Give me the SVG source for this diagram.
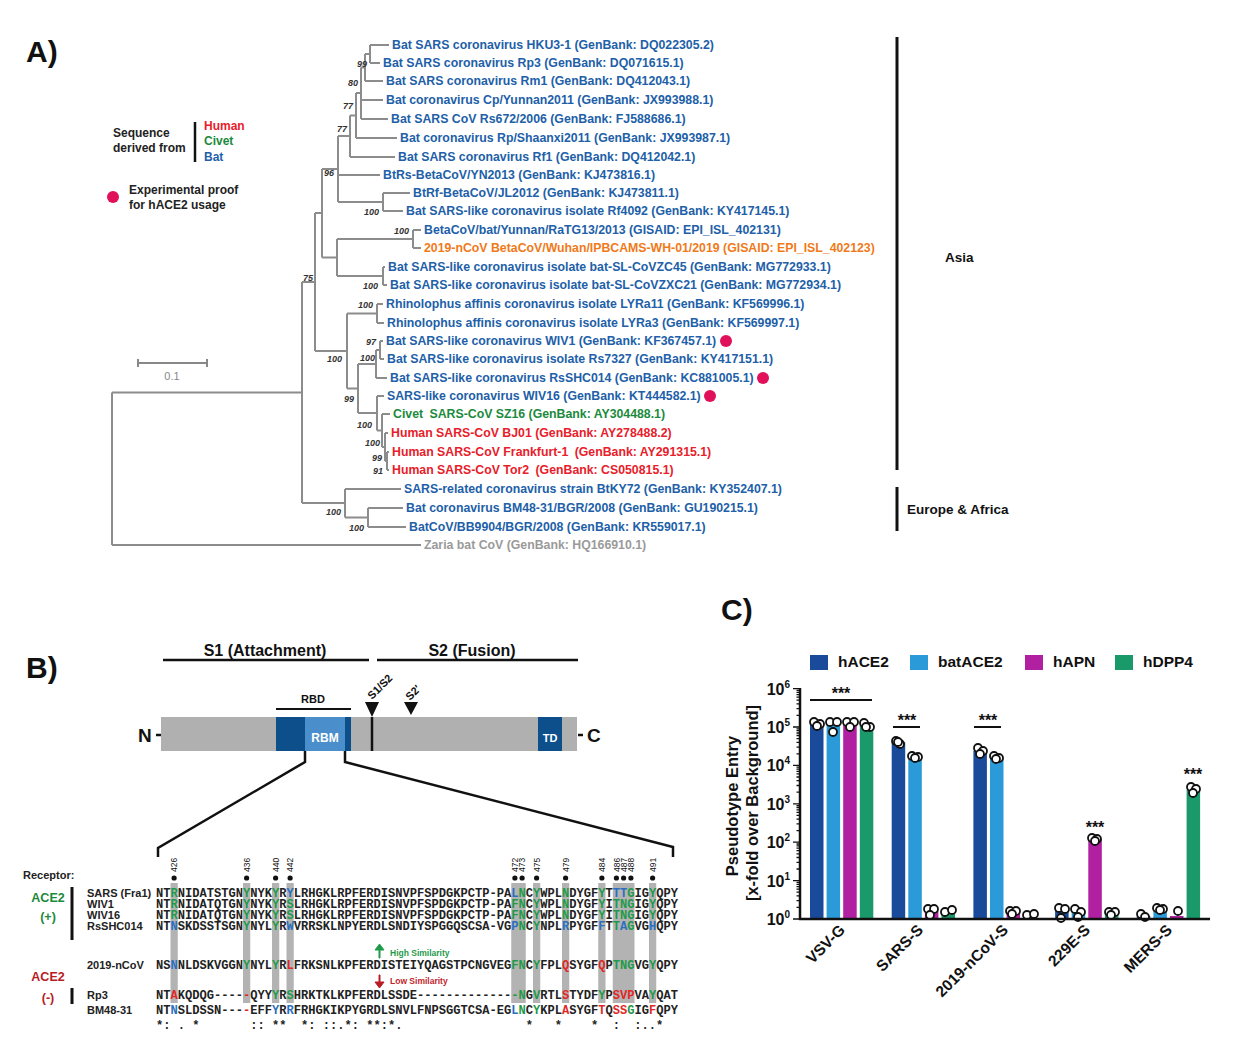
<svg xmlns="http://www.w3.org/2000/svg" width="1240" height="1051" viewBox="0 0 1240 1051">
<style>
text{font-family:"Liberation Sans",Arial,sans-serif}
.pl{font-size:30px;font-weight:bold;fill:#111}
.leaf{font-size:12.3px;font-weight:bold;fill:#2160a8}
.red{fill:#e8202a}.grn{fill:#1a8a3c}.org{fill:#f07a1a}.gry{fill:#9a9a9a}
.bs{font-size:9px;font-weight:bold;font-style:italic;fill:#333;text-anchor:end}
.br{stroke:#8c8c8c;stroke-width:2;fill:none}
.lg{font-size:12px;font-weight:bold;fill:#222}
.dom{font-size:16px;font-weight:bold;fill:#111}
.sm{font-size:11px;font-weight:bold;fill:#111}
.seq text{font-family:"Liberation Mono","Courier New",monospace;font-size:12.08px;font-weight:bold;fill:#222}
.g{fill:#1f9a4a}.b{fill:#2a6fc0}.r{fill:#e02828}
.col{fill:#b3b3b3}
.num{font-size:8.5px;fill:#111}
.ax{stroke:#111;stroke-width:2.5;fill:none}
.tk{stroke:#111;stroke-width:1.3;fill:none}
.tl{font-size:16px;font-weight:bold;fill:#111;text-anchor:end}
.xl{font-size:15.5px;font-weight:bold;fill:#111;text-anchor:end}
.c1{fill:#1a4b9b}.c2{fill:#2a9ad8}.c3{fill:#b020a0}.c4{fill:#1a9a6a}
.pt{fill:#fff;stroke:#111;stroke-width:1.8}
.st{font-size:16px;font-weight:bold;fill:#111;text-anchor:middle}
</style>
<rect width="1240" height="1051" fill="#fff"/>

<!-- Panel labels -->
<text class="pl" x="26" y="62">A)</text>
<text class="pl" x="26" y="678">B)</text>
<text class="pl" x="721" y="620">C)</text>

<!-- ===== Panel A: tree branches ===== -->
<g id="tree-branches" class="br">
<path d="M112,392.5V545M112,392.5H302M112,545H421"/>
<path d="M302,282V503M302,282H315M302,503H345"/>
<path d="M315,213V351M315,213H322M315,351H347"/>
<path d="M322,169V257.5M322,169H338M322,257.5H337"/>
<path d="M338,136V202M338,136H350M338,175H380M338,202H383"/>
<path d="M350,115.5V157M350,115.5H356M350,157H395"/>
<path d="M356,93V138M356,93H361M356,138H397"/>
<path d="M361,67.5V119M361,67.5H365M361,100H383M361,119H388"/>
<path d="M365,54V81M365,54H370M365,81H383"/>
<path d="M370,45V63M370,45H389M370,63H380"/>
<path d="M383,193V211M383,193H410M383,211H403"/>
<path d="M337,239V276M337,239H413M337,276H383"/>
<path d="M413,230V248M413,230H421M413,248H421"/>
<path d="M383,267V285M383,267H385M383,285H387"/>
<path d="M347,313.5V388.5M347,313.5H377M347,388.5H358"/>
<path d="M377,304V323M377,304H383M377,323H384"/>
<path d="M358,364V413M358,364H376M358,413H377"/>
<path d="M376,350V378M376,350H380M376,378H387"/>
<path d="M380,341V359M380,341H383M380,359H384"/>
<path d="M377,396V430.5M377,396H384M377,430.5H382"/>
<path d="M382,414V447M382,414H390M382,447H385"/>
<path d="M385,433V461M385,433H388M385,461H387"/>
<path d="M387,452V470M387,452H389M387,470H389"/>
<path d="M345,489V517.5M345,489H401M345,517.5H368"/>
<path d="M368,508V527M368,508H403M368,527H406"/>
</g>

<!-- bootstrap values -->
<g id="bootstrap">
<text class="bs" x="367" y="67">99</text>
<text class="bs" x="358" y="86">80</text>
<text class="bs" x="353" y="109">77</text>
<text class="bs" x="347" y="132">77</text>
<text class="bs" x="334" y="176">96</text>
<text class="bs" x="379" y="215">100</text>
<text class="bs" x="409" y="234">100</text>
<text class="bs" x="378" y="289">100</text>
<text class="bs" x="313" y="281">75</text>
<text class="bs" x="373" y="308">100</text>
<text class="bs" x="376" y="345">97</text>
<text class="bs" x="375" y="361">100</text>
<text class="bs" x="342" y="362">100</text>
<text class="bs" x="354" y="402">99</text>
<text class="bs" x="372" y="428">100</text>
<text class="bs" x="380" y="446">100</text>
<text class="bs" x="382" y="461">99</text>
<text class="bs" x="383" y="474">91</text>
<text class="bs" x="341" y="515">100</text>
<text class="bs" x="364" y="531">100</text>
</g>

<!-- leaves -->
<g id="leaf-HKU3-1"><text class="leaf" x="392" y="49">Bat SARS coronavirus HKU3-1 (GenBank: DQ022305.2)</text></g>
<g id="leaf-Rp3"><text class="leaf" x="383" y="67">Bat SARS coronavirus Rp3 (GenBank: DQ071615.1)</text></g>
<g id="leaf-Rm1"><text class="leaf" x="386" y="85">Bat SARS coronavirus Rm1 (GenBank: DQ412043.1)</text></g>
<g id="leaf-Cp"><text class="leaf" x="386" y="104">Bat coronavirus Cp/Yunnan2011 (GenBank: JX993988.1)</text></g>
<g id="leaf-Rs672"><text class="leaf" x="391" y="123">Bat SARS CoV Rs672/2006 (GenBank: FJ588686.1)</text></g>
<g id="leaf-RpShaanxi"><text class="leaf" x="400" y="142">Bat coronavirus Rp/Shaanxi2011 (GenBank: JX993987.1)</text></g>
<g id="leaf-Rf1"><text class="leaf" x="398" y="161">Bat SARS coronavirus Rf1 (GenBank: DQ412042.1)</text></g>
<g id="leaf-BtRs"><text class="leaf" x="383" y="179">BtRs-BetaCoV/YN2013 (GenBank: KJ473816.1)</text></g>
<g id="leaf-BtRf"><text class="leaf" x="413" y="197">BtRf-BetaCoV/JL2012 (GenBank: KJ473811.1)</text></g>
<g id="leaf-Rf4092"><text class="leaf" x="406" y="215">Bat SARS-like coronavirus isolate Rf4092 (GenBank: KY417145.1)</text></g>
<g id="leaf-RaTG13"><text class="leaf" x="424" y="234">BetaCoV/bat/Yunnan/RaTG13/2013 (GISAID: EPI_ISL_402131)</text></g>
<g id="leaf-nCoV"><text class="leaf org" x="424" y="252">2019-nCoV BetaCoV/Wuhan/IPBCAMS-WH-01/2019 (GISAID: EPI_ISL_402123)</text></g>
<g id="leaf-ZC45"><text class="leaf" x="388" y="271">Bat SARS-like coronavirus isolate bat-SL-CoVZC45 (GenBank: MG772933.1)</text></g>
<g id="leaf-ZXC21"><text class="leaf" x="390" y="289">Bat SARS-like coronavirus isolate bat-SL-CoVZXC21 (GenBank: MG772934.1)</text></g>
<g id="leaf-LYRa11"><text class="leaf" x="386" y="308">Rhinolophus affinis coronavirus isolate LYRa11 (GenBank: KF569996.1)</text></g>
<g id="leaf-LYRa3"><text class="leaf" x="387" y="327">Rhinolophus affinis coronavirus isolate LYRa3 (GenBank: KF569997.1)</text></g>
<g id="leaf-WIV1"><text class="leaf" x="386" y="345">Bat SARS-like coronavirus WIV1 (GenBank: KF367457.1)</text><circle cx="726" cy="341" r="6" fill="#e0105a"/></g>
<g id="leaf-Rs7327"><text class="leaf" x="387" y="363">Bat SARS-like coronavirus isolate Rs7327 (GenBank: KY417151.1)</text></g>
<g id="leaf-RsSHC014"><text class="leaf" x="390" y="382">Bat SARS-like coronavirus RsSHC014 (GenBank: KC881005.1)</text><circle cx="763" cy="378" r="6" fill="#e0105a"/></g>
<g id="leaf-WIV16"><text class="leaf" x="387" y="400">SARS-like coronavirus WIV16 (GenBank: KT444582.1)</text><circle cx="710" cy="396" r="6" fill="#e0105a"/></g>
<g id="leaf-SZ16"><text class="leaf grn" x="393" y="418">Civet <tspan dx="3">SARS-CoV SZ16 (GenBank: AY304488.1)</tspan></text></g>
<g id="leaf-BJ01"><text class="leaf red" x="391" y="437">Human SARS-CoV BJ01 (GenBank: AY278488.2)</text></g>
<g id="leaf-Frankfurt"><text class="leaf red" x="392" y="456">Human SARS-CoV Frankfurt-1 <tspan dx="3">(GenBank: AY291315.1)</tspan></text></g>
<g id="leaf-Tor2"><text class="leaf red" x="392" y="474">Human SARS-CoV Tor2 <tspan dx="3">(GenBank: CS050815.1)</tspan></text></g>
<g id="leaf-BtKY72"><text class="leaf" x="404" y="493">SARS-related coronavirus strain BtKY72 (GenBank: KY352407.1)</text></g>
<g id="leaf-BM48"><text class="leaf" x="406" y="512">Bat coronavirus BM48-31/BGR/2008 (GenBank: GU190215.1)</text></g>
<g id="leaf-BB9904"><text class="leaf" x="409" y="531">BatCoV/BB9904/BGR/2008 (GenBank: KR559017.1)</text></g>
<g id="leaf-Zaria"><text class="leaf gry" x="424" y="549">Zaria bat CoV (GenBank: HQ166910.1)</text></g>

<!-- legend -->
<g id="legend-A">
<text class="lg" x="113" y="137">Sequence</text>
<text class="lg" x="113" y="152">derived from</text>
<path d="M195,122V162" stroke="#111" stroke-width="2.5"/>
<text class="lg" x="204" y="130" style="fill:#e8202a">Human</text>
<text class="lg" x="204" y="145" style="fill:#1a8a3c">Civet</text>
<text class="lg" x="204" y="161" style="fill:#2160a8">Bat</text>
<circle cx="113" cy="197" r="6" fill="#e0105a"/>
<text class="lg" x="129" y="194">Experimental proof</text>
<text class="lg" x="129" y="209">for hACE2 usage</text>
</g>
<g id="scalebar">
<path d="M138,363H207M138,359V367M207,359V367" stroke="#888" stroke-width="2" fill="none"/>
<text x="172" y="380" font-size="11" fill="#888" text-anchor="middle">0.1</text>
</g>
<g id="region-asia">
<path d="M897,37V470" stroke="#111" stroke-width="3"/>
<text x="945" y="262" font-size="13.5" font-weight="bold" fill="#111">Asia</text>
</g>
<g id="region-europe">
<path d="M897,487V531" stroke="#111" stroke-width="3"/>
<text x="907" y="514" font-size="13.5" font-weight="bold" fill="#111">Europe &amp; Africa</text>
</g>

<!-- ===== Panel B: domain ===== -->
<g id="spike-domains">
<path d="M163,660H369M377,660H578" stroke="#111" stroke-width="2.5"/>
<text class="dom" x="265" y="656" text-anchor="middle">S1 (Attachment)</text>
<text class="dom" x="472" y="656" text-anchor="middle">S2 (Fusion)</text>
<rect x="161" y="717" width="416" height="34" fill="#b0b0b0"/>
<rect x="276" y="717" width="75" height="34" fill="#0d4f8b"/>
<rect x="305" y="717" width="40" height="34" fill="#4a8fcc"/>
<rect x="538" y="717" width="24" height="34" fill="#0d4f8b"/>
<text x="325" y="742" font-size="12" font-weight="bold" fill="#fff" text-anchor="middle">RBM</text>
<text x="550" y="742" font-size="11" font-weight="bold" fill="#fff" text-anchor="middle">TD</text>
<path d="M276,709H351" stroke="#111" stroke-width="2"/>
<text class="sm" x="313" y="703" text-anchor="middle">RBD</text>
<path d="M372,717V751" stroke="#111" stroke-width="2.5"/>
<path d="M365,702H379L372,717Z" fill="#111"/>
<path d="M404,702H418L411,715Z" fill="#111"/>
<text class="sm" transform="translate(372,700) rotate(-45)">S1/S2</text>
<text class="sm" transform="translate(410,701) rotate(-45)">S2′</text>
<text x="138" y="742" font-size="19" font-weight="bold" fill="#111">N</text>
<path d="M156,735H161M578,735H583" stroke="#111" stroke-width="2.5"/>
<text x="587" y="742" font-size="19" font-weight="bold" fill="#111">C</text>
</g>
<g id="zoom-lines" fill="none" stroke="#111" stroke-width="2.5">
<path d="M305,751V762L158,848V857"/>
<path d="M345,751V762L673,847V857"/>
</g>

<!-- alignment -->
<g id="alignment-columns" class="col">
<rect x="170.5" y="883" width="7.25" height="120"/>
<rect x="243" y="883" width="7.25" height="120"/>
<rect x="272" y="883" width="7.25" height="120"/>
<rect x="286.5" y="883" width="7.25" height="120"/>
<rect x="511.25" y="883" width="14.5" height="120"/>
<rect x="533" y="883" width="7.25" height="120"/>
<rect x="562" y="883" width="7.25" height="120"/>
<rect x="598.25" y="883" width="7.25" height="120"/>
<rect x="612.75" y="883" width="21.75" height="120"/>
<rect x="649" y="883" width="7.25" height="120"/>
</g>
<g id="alignment-positions">
<g fill="#111">
<circle cx="174.1" cy="878" r="2.6"/><circle cx="246.6" cy="878" r="2.6"/><circle cx="275.6" cy="878" r="2.6"/><circle cx="290.1" cy="878" r="2.6"/>
<circle cx="514.9" cy="878" r="2.6"/><circle cx="522.1" cy="878" r="2.6"/><circle cx="536.6" cy="878" r="2.6"/><circle cx="565.6" cy="878" r="2.6"/>
<circle cx="601.9" cy="878" r="2.6"/><circle cx="616.4" cy="878" r="2.6"/><circle cx="623.6" cy="878" r="2.6"/><circle cx="630.9" cy="878" r="2.6"/><circle cx="652.6" cy="878" r="2.6"/>
</g>
<text class="num" transform="translate(177.3,872) rotate(-90)">426</text>
<text class="num" transform="translate(249.8,872) rotate(-90)">436</text>
<text class="num" transform="translate(278.8,872) rotate(-90)">440</text>
<text class="num" transform="translate(293.3,872) rotate(-90)">442</text>
<text class="num" transform="translate(518.1,872) rotate(-90)">472</text>
<text class="num" transform="translate(525.3,872) rotate(-90)">473</text>
<text class="num" transform="translate(539.8,872) rotate(-90)">475</text>
<text class="num" transform="translate(568.8,872) rotate(-90)">479</text>
<text class="num" transform="translate(605.1,872) rotate(-90)">484</text>
<text class="num" transform="translate(619.6,872) rotate(-90)">486</text>
<text class="num" transform="translate(626.8,872) rotate(-90)">487</text>
<text class="num" transform="translate(634.1,872) rotate(-90)">488</text>
<text class="num" transform="translate(655.8,872) rotate(-90)">491</text>
</g>
<g id="alignment-labels">
<text x="23" y="879" font-size="11" font-weight="bold" fill="#222">Receptor:</text>
<text x="48" y="902" font-size="12.5" font-weight="bold" fill="#1a8a3c" text-anchor="middle">ACE2</text>
<text x="48" y="921" font-size="12.5" font-weight="bold" fill="#1a8a3c" text-anchor="middle">(+)</text>
<path d="M72,887V940M72,988V1004" stroke="#111" stroke-width="3"/>
<text x="48" y="981" font-size="12.5" font-weight="bold" fill="#b81c24" text-anchor="middle">ACE2</text>
<text x="48" y="1002" font-size="12.5" font-weight="bold" fill="#b81c24" text-anchor="middle">(-)</text>
<g class="sm" style="fill:#222">
<text x="87" y="897">SARS (Fra1)</text>
<text x="87" y="908">WIV1</text>
<text x="87" y="919">WIV16</text>
<text x="87" y="930">RsSHC014</text>
<text x="87" y="969">2019-nCoV</text>
<text x="87" y="999">Rp3</text>
<text x="87" y="1014">BM48-31</text>
</g>
</g>
<g id="alignment-rows" class="seq">
<text x="156" y="897">NT<tspan class="g">R</tspan>NIDATSTGN<tspan class="g">Y</tspan>NYK<tspan class="g">Y</tspan>R<tspan class="b">Y</tspan>LRHGKLRPFERDISNVPFSPDGKPCTP-PA<tspan class="b">L</tspan><tspan class="g">N</tspan>C<tspan class="g">Y</tspan>WPL<tspan class="g">N</tspan>DYGF<tspan class="g">Y</tspan>T<tspan class="b">TT</tspan><tspan class="g">G</tspan>IG<tspan class="g">Y</tspan>QPY</text>
<text x="156" y="908">NT<tspan class="g">R</tspan>NIDATQTGN<tspan class="g">Y</tspan>NYK<tspan class="g">Y</tspan>R<tspan class="g">S</tspan>LRHGKLRPFERDISNVPFSPDGKPCTP-PA<tspan class="g">FN</tspan>C<tspan class="g">Y</tspan>WPL<tspan class="g">N</tspan>DYGF<tspan class="g">Y</tspan>I<tspan class="g">TNG</tspan>IG<tspan class="g">Y</tspan>QPY</text>
<text x="156" y="919">NT<tspan class="g">R</tspan>NIDATQTGN<tspan class="g">Y</tspan>NYK<tspan class="g">Y</tspan>R<tspan class="g">S</tspan>LRHGKLRPFERDISNVPFSPDGKPCTP-PA<tspan class="g">FN</tspan>C<tspan class="g">Y</tspan>WPL<tspan class="g">N</tspan>DYGF<tspan class="g">Y</tspan>I<tspan class="g">TNG</tspan>IG<tspan class="g">Y</tspan>QPY</text>
<text x="156" y="930">NT<tspan class="b">N</tspan>SKDSSTSGN<tspan class="g">Y</tspan>NYL<tspan class="g">Y</tspan>R<tspan class="b">W</tspan>VRRSKLNPYERDLSNDIYSPGGQSCSA-VG<tspan class="b">P</tspan><tspan class="g">N</tspan>C<tspan class="g">Y</tspan>NPL<tspan class="b">R</tspan>PYGF<tspan class="b">F</tspan>T<tspan class="g">T</tspan><tspan class="b">A</tspan><tspan class="g">G</tspan>VG<tspan class="b">H</tspan>QPY</text>
<text x="156" y="969">NS<tspan class="b">N</tspan>NLDSKVGGN<tspan class="g">Y</tspan>NYL<tspan class="g">Y</tspan>R<tspan class="r">L</tspan>FRKSNLKPFERDISTEIYQAGSTPCNGVEG<tspan class="g">FN</tspan>C<tspan class="g">Y</tspan>FPL<tspan class="r">Q</tspan>SYGF<tspan class="r">Q</tspan>P<tspan class="g">TNG</tspan>VG<tspan class="g">Y</tspan>QPY</text>
<text x="156" y="999">NT<tspan class="r">A</tspan>KQDQG----<tspan class="r">-</tspan>QYY<tspan class="g">Y</tspan>R<tspan class="g">S</tspan>HRKTKLKPFERDLSSDE-------------<tspan class="g">-N</tspan>G<tspan class="g">V</tspan>RTL<tspan class="r">S</tspan>TYDF<tspan class="g">Y</tspan>P<tspan class="r">SVP</tspan>VA<tspan class="g">Y</tspan>QAT</text>
<text x="156" y="1014">NT<tspan class="b">N</tspan>SLDSSN---<tspan class="r">-</tspan>EFF<tspan class="b">Y</tspan>R<tspan class="b">R</tspan>FRHGKIKPYGRDLSNVLFNPSGGTCSA-EG<tspan class="b">L</tspan><tspan class="g">N</tspan>C<tspan class="g">Y</tspan>KPL<tspan class="r">A</tspan>SYGF<tspan class="r">T</tspan>Q<tspan class="r">SS</tspan><tspan class="g">G</tspan>IG<tspan class="r">F</tspan>QPY</text>
<text x="156" y="1029" xml:space="preserve" style="white-space:pre">*: . *       :: **  *: ::.*: **:*.                 *   *    *  :  :..*</text>
</g>
<g id="similarity-notes">
<path d="M379,958V950H375L379.5,944L384,950H380V958Z" fill="#1f9a4a" stroke="#1f9a4a" stroke-width="1"/>
<text x="390" y="956" font-size="8.5" font-weight="bold" fill="#1f9a4a">High Similarity</text>
<path d="M379,975V982H375L379.5,988L384,982H380V975Z" fill="#b81c24" stroke="#b81c24" stroke-width="1"/>
<text x="390" y="984" font-size="8.5" font-weight="bold" fill="#c0262c">Low Similarity</text>
</g>

<!-- ===== Panel C ===== -->
<g id="legend-C" font-size="15.5" font-weight="bold" fill="#111">
<rect class="c1" x="810" y="655" width="18" height="15"/><text x="838" y="667">hACE2</text>
<rect class="c2" x="910" y="655" width="18" height="15"/><text x="938" y="667">batACE2</text>
<rect class="c3" x="1025" y="655" width="18" height="15"/><text x="1053" y="667">hAPN</text>
<rect class="c4" x="1115" y="655" width="18" height="15"/><text x="1143" y="667">hDPP4</text>
</g>
<g id="bars">
<rect class="c1" x="810" y="724" width="13.5" height="195"/>
<rect class="c2" x="826.6" y="724.7" width="13.5" height="194.3"/>
<rect class="c3" x="843.2" y="724" width="13.5" height="195"/>
<rect class="c4" x="859.8" y="725.4" width="13.5" height="193.6"/>
<rect class="c1" x="891.7" y="742.3" width="13.5" height="176.7"/>
<rect class="c2" x="908.3" y="756.6" width="13.5" height="162.4"/>
<rect class="c3" x="924.9" y="911.2" width="13.5" height="7.8"/>
<rect class="c4" x="941.5" y="912.2" width="13.5" height="6.8"/>
<rect class="c1" x="973.4" y="750.8" width="13.5" height="168.2"/>
<rect class="c2" x="990" y="757.6" width="13.5" height="161.4"/>
<rect class="c3" x="1006.6" y="912.2" width="13.5" height="6.8"/>
<rect class="c4" x="1023.2" y="914.6" width="13.5" height="4.4"/>
<rect class="c1" x="1055.1" y="910.2" width="13.5" height="8.8"/>
<rect class="c2" x="1071.7" y="912.2" width="13.5" height="6.8"/>
<rect class="c3" x="1088.3" y="839.2" width="13.5" height="79.8"/>
<rect class="c4" x="1104.9" y="913.4" width="13.5" height="5.6"/>
<rect class="c1" x="1136.8" y="916" width="13.5" height="3"/>
<rect class="c2" x="1153.4" y="909.2" width="13.5" height="9.8"/>
<rect class="c3" x="1170" y="916" width="13.5" height="3"/>
<rect class="c4" x="1186.6" y="789.9" width="13.5" height="129.1"/>
</g>
<g id="points">
<circle class="pt" cx="814" cy="722" r="4"/><circle class="pt" cx="820" cy="724" r="4"/><circle class="pt" cx="817" cy="726" r="4"/>
<circle class="pt" cx="830" cy="722" r="4"/><circle class="pt" cx="837" cy="722" r="4"/><circle class="pt" cx="833" cy="732" r="4"/>
<circle class="pt" cx="847" cy="722" r="4"/><circle class="pt" cx="854" cy="722" r="4"/><circle class="pt" cx="850" cy="727" r="4"/>
<circle class="pt" cx="864" cy="723" r="4"/><circle class="pt" cx="870" cy="727" r="4"/><circle class="pt" cx="866" cy="727" r="4"/>
<circle class="pt" cx="896" cy="741" r="4"/><circle class="pt" cx="900" cy="744" r="4"/><circle class="pt" cx="898" cy="742" r="4"/>
<circle class="pt" cx="912" cy="756" r="4"/><circle class="pt" cx="918" cy="757" r="4"/><circle class="pt" cx="915" cy="758" r="4"/>
<circle class="pt" cx="928" cy="909" r="4"/><circle class="pt" cx="934" cy="909" r="4"/><circle class="pt" cx="930" cy="915" r="4"/>
<circle class="pt" cx="945" cy="912" r="4"/><circle class="pt" cx="952" cy="910" r="4"/>
<circle class="pt" cx="978" cy="748" r="4"/><circle class="pt" cx="983" cy="751" r="4"/><circle class="pt" cx="980" cy="754" r="4"/>
<circle class="pt" cx="994" cy="756" r="4"/><circle class="pt" cx="999" cy="758" r="4"/><circle class="pt" cx="996" cy="759" r="4"/>
<circle class="pt" cx="1010" cy="911" r="4"/><circle class="pt" cx="1016" cy="911" r="4"/><circle class="pt" cx="1012" cy="914" r="4"/>
<circle class="pt" cx="1027" cy="915" r="4"/><circle class="pt" cx="1034" cy="914" r="4"/>
<circle class="pt" cx="1059" cy="908" r="4"/><circle class="pt" cx="1065" cy="909" r="4"/><circle class="pt" cx="1061" cy="918" r="4"/>
<circle class="pt" cx="1075" cy="909" r="4"/><circle class="pt" cx="1081" cy="912" r="4"/><circle class="pt" cx="1078" cy="917" r="4"/>
<circle class="pt" cx="1092" cy="838" r="4"/><circle class="pt" cx="1097" cy="839" r="4"/><circle class="pt" cx="1095" cy="841" r="4"/>
<circle class="pt" cx="1109" cy="912" r="4"/><circle class="pt" cx="1115" cy="912" r="4"/><circle class="pt" cx="1111" cy="915" r="4"/>
<circle class="pt" cx="1141" cy="914" r="4"/><circle class="pt" cx="1145" cy="917" r="4"/>
<circle class="pt" cx="1157" cy="908" r="4"/><circle class="pt" cx="1163" cy="909" r="4"/><circle class="pt" cx="1160" cy="910" r="4"/>
<circle class="pt" cx="1178" cy="911" r="4"/>
<circle class="pt" cx="1191" cy="787" r="4"/><circle class="pt" cx="1196" cy="789" r="4"/><circle class="pt" cx="1193" cy="793" r="4"/>
</g>
<g id="axes">
<path class="ax" d="M800,688V920M799,919H1210"/>
<path class="tk" stroke-width="2" d="M793,919H800M793,880.6H800M793,842.2H800M793,803.8H800M793,765.4H800M793,727H800M793,688.6H800"/>
<path class="tk" d="M796.5,907.4H800M796.5,900.7H800M796.5,895.9H800M796.5,892.2H800M796.5,889.1H800M796.5,886.6H800M796.5,884.3H800M796.5,882.4H800M796.5,869H800M796.5,862.3H800M796.5,857.5H800M796.5,853.8H800M796.5,850.7H800M796.5,848.2H800M796.5,845.9H800M796.5,844H800M796.5,830.6H800M796.5,823.9H800M796.5,819.1H800M796.5,815.4H800M796.5,812.3H800M796.5,809.8H800M796.5,807.5H800M796.5,805.6H800M796.5,792.2H800M796.5,785.5H800M796.5,780.7H800M796.5,777H800M796.5,773.9H800M796.5,771.4H800M796.5,769.1H800M796.5,767.2H800M796.5,753.8H800M796.5,747.1H800M796.5,742.3H800M796.5,738.6H800M796.5,735.5H800M796.5,733H800M796.5,730.7H800M796.5,728.8H800M796.5,715.4H800M796.5,708.7H800M796.5,703.9H800M796.5,700.2H800M796.5,697.1H800M796.5,694.6H800M796.5,692.3H800M796.5,690.4H800"/>
<text class="tl" x="790" y="925">10<tspan dy="-7" font-size="10">0</tspan></text>
<text class="tl" x="790" y="887">10<tspan dy="-7" font-size="10">1</tspan></text>
<text class="tl" x="790" y="848">10<tspan dy="-7" font-size="10">2</tspan></text>
<text class="tl" x="790" y="810">10<tspan dy="-7" font-size="10">3</tspan></text>
<text class="tl" x="790" y="771">10<tspan dy="-7" font-size="10">4</tspan></text>
<text class="tl" x="790" y="733">10<tspan dy="-7" font-size="10">5</tspan></text>
<text class="tl" x="790" y="695">10<tspan dy="-7" font-size="10">6</tspan></text>
<text x="738" y="806" font-size="16.5" font-weight="bold" fill="#111" text-anchor="middle" transform="rotate(-90 738 806)">Pseudotype Entry</text>
<text x="758" y="803" font-size="16.5" font-weight="bold" fill="#111" text-anchor="middle" transform="rotate(-90 758 803)">[x-fold over Background]</text>
<text class="xl" transform="translate(846,931) rotate(-45)">VSV-G</text>
<text class="xl" transform="translate(924,931) rotate(-45)">SARS-S</text>
<text class="xl" transform="translate(1009,931) rotate(-45)">2019-nCoV-S</text>
<text class="xl" transform="translate(1091,931) rotate(-45)">229E-S</text>
<text class="xl" transform="translate(1173,931) rotate(-45)">MERS-S</text>
</g>
<g id="significance">
<path d="M810,700H872M893,727H920M974,727H1001" stroke="#111" stroke-width="2"/>
<text class="st" x="841" y="699">***</text>
<text class="st" x="907" y="726">***</text>
<text class="st" x="988" y="726">***</text>
<text class="st" x="1095" y="833">***</text>
<text class="st" x="1193" y="780">***</text>
</g>
</svg>
